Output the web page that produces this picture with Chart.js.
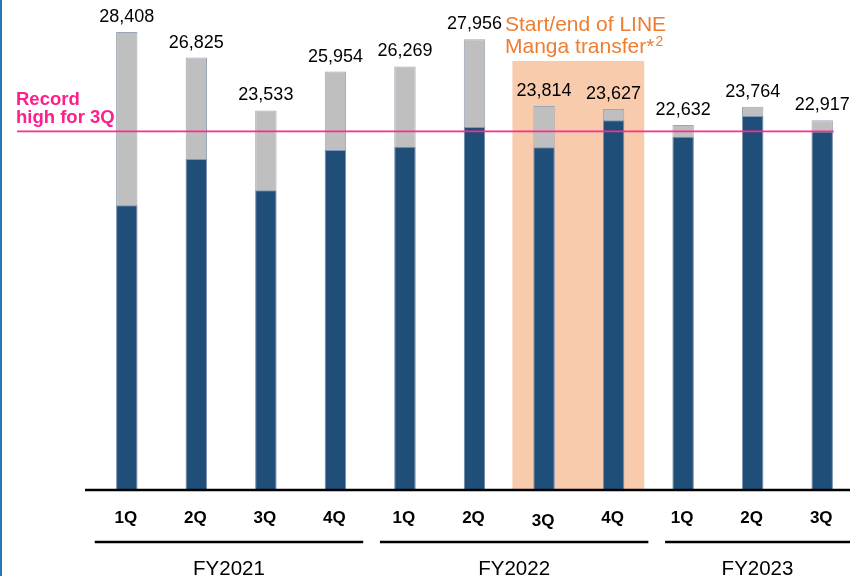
<!DOCTYPE html>
<html>
<head>
<meta charset="utf-8">
<script src="https://cdn.jsdelivr.net/npm/chart.js@4.4.0/dist/chart.umd.min.js"></script>
<style>
    html, body { margin: 0; padding: 0; background: #fff; overflow: hidden; }
    #wrap { width: 857px; height: 576px; }
</style>
</head>
<body>
<div id="wrap"><canvas id="salesChart" width="857" height="576"></canvas></div>
<script>
const quarters = ['1Q', '2Q', '3Q', '4Q', '1Q', '2Q', '3Q', '4Q', '1Q', '2Q', '3Q'];
const fiscalYears = ['FY2021', 'FY2022', 'FY2023'];
const yearSizes = [4, 4, 3];
const totalValues = [28408, 26825, 23533, 25954, 26269, 27956, 23814, 23627, 22632, 23764, 22917];
const darkValues = [17640, 20520, 18570, 21080, 21280, 22500, 21240, 22920, 21900, 23190, 22230];
const recordHigh = 22230;
const highlightRange = [6, 7];

const FONT = '"Liberation Sans", Arial, sans-serif';

const overlayPlugin = {
    id: 'overlay',
    beforeDatasetsDraw(chart) {
        const ctx = chart.ctx;
        const x = chart.scales.x;
        const area = chart.chartArea;
        const slot = x.getPixelForValue(1) - x.getPixelForValue(0);

        // highlighted quarters box
        const left = x.getPixelForValue(highlightRange[0]) - slot * 0.455;
        const right = x.getPixelForValue(highlightRange[1]) + slot * 0.44;
        ctx.save();
        ctx.fillStyle = '#f8cbad';
        ctx.fillRect(left, 61, right - left, area.bottom - 61);
        ctx.restore();
    },
    afterDatasetsDraw(chart) {
        const ctx = chart.ctx;
        const x = chart.scales.x;
        const y = chart.scales.y;
        const area = chart.chartArea;
        const slot = x.getPixelForValue(1) - x.getPixelForValue(0);
        ctx.save();

        // record high line
        const ry = y.getPixelForValue(recordHigh);
        ctx.strokeStyle = '#ff2b8f';
        ctx.lineWidth = 1.6;
        ctx.beginPath();
        ctx.moveTo(17, ry);
        ctx.lineTo(x.getPixelForValue(quarters.length - 1) + 11.5, ry);
        ctx.stroke();

        ctx.fillStyle = '#ff1f8a';
        ctx.font = 'bold 18.5px ' + FONT;
        ctx.textAlign = 'left';
        ctx.textBaseline = 'alphabetic';
        ctx.fillText('Record', 16, 105);
        ctx.fillText('high for 3Q', 16, 123);

        // value labels
        ctx.fillStyle = '#000';
        ctx.font = '18px ' + FONT;
        ctx.textAlign = 'center';
        totalValues.forEach((v, i) => {
            ctx.fillText(v.toLocaleString('en-US'), x.getPixelForValue(i), y.getPixelForValue(v) - 10);
        });

        // baseline
        ctx.strokeStyle = '#000';
        ctx.lineWidth = 2.5;
        ctx.beginPath();
        ctx.moveTo(85, area.bottom + 1);
        ctx.lineTo(850, area.bottom + 1);
        ctx.stroke();

        // quarter labels
        ctx.font = 'bold 17px ' + FONT;
        quarters.forEach((q, i) => {
            const dy = i === 6 ? 3 : 0;
            ctx.fillText(q, x.getPixelForValue(i) - 1, 523 + dy);
        });

        // fiscal year groups
        let start = 0;
        fiscalYears.forEach((fy, g) => {
            const end = start + yearSizes[g] - 1;
            const gl = x.getPixelForValue(0) - 32 + g * slot * 4.1;
            const gr = Math.min(gl + slot * 3.86, 850);
            ctx.lineWidth = 2.5;
            ctx.beginPath();
            ctx.moveTo(gl, 542);
            ctx.lineTo(gr, 542);
            ctx.stroke();
            ctx.font = '20.5px ' + FONT;
            ctx.fillText(fy, (gl + gr) / 2, 575);
            start = end + 1;
        });

        // LINE Manga note
        ctx.fillStyle = '#ed7d31';
        ctx.font = '21px ' + FONT;
        ctx.textAlign = 'left';
        ctx.fillText('Start/end of LINE', 505, 31);
        ctx.fillText('Manga transfer*', 505, 53);
        const w = ctx.measureText('Manga transfer*').width;
        ctx.font = '14px ' + FONT;
        ctx.fillText('2', 505 + w + 1, 46);

        // left border
        ctx.fillStyle = '#2e75b6';
        ctx.fillRect(0, 0, 2, chart.height);
        ctx.restore();
    }
};

const ctx = document.getElementById('salesChart').getContext('2d');
new Chart(ctx, {
    type: 'bar',
    data: {
        labels: quarters,
        datasets: [
            {
                label: 'Base',
                data: darkValues,
                backgroundColor: '#1f4e79',
                borderColor: '#7f97b2',
                borderWidth: 1,
                grouped: false,
                barPercentage: 0.307,
                categoryPercentage: 1
            },
            {
                label: 'Total',
                data: totalValues,
                backgroundColor: '#bfbfbf',
                borderColor: '#98a6b6',
                borderWidth: 1,
                grouped: false,
                barPercentage: 0.307,
                categoryPercentage: 1
            }
        ]
    },
    options: {
        responsive: false,
        animation: false,
        layout: {
            padding: { left: 92, right: 0, top: 0, bottom: 87 }
        },
        plugins: {
            legend: { display: false },
            tooltip: { enabled: false }
        },
        scales: {
            x: { display: false },
            y: { display: false, min: 0, max: 30400 }
        }
    },
    plugins: [overlayPlugin]
});
</script>
</body>
</html>
